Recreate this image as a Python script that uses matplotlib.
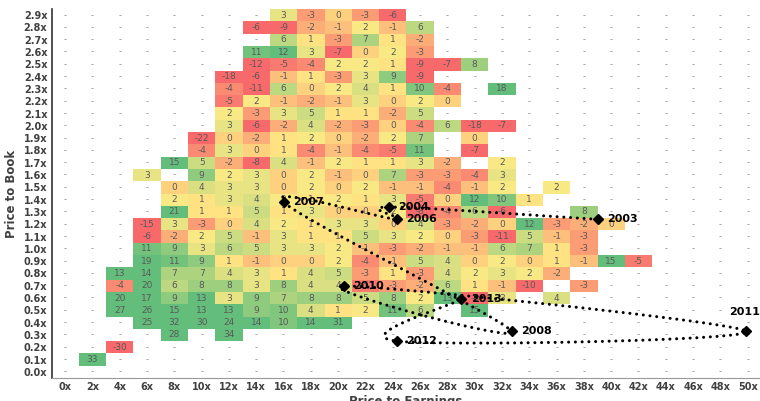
import numpy as np
import matplotlib.pyplot as plt
from matplotlib.colors import LinearSegmentedColormap, Normalize

# axis categories
pe_ticks = list(range(0, 51, 2))
pb_ticks = [round(0.1 * i, 1) for i in range(30)]

# heat map values, one string per P/B row from 2.9x down to 0.0x, "-" = no data
heat_rows = [
    "- - - - - - - - 3 -3 0 -3 -6 - - - - - - - - - - - - -",
    "- - - - - - - -6 -9 -2 -1 2 -1 6 - - - - - - - - - - - -",
    "- - - - - - - - 6 1 -3 7 1 -2 - - - - - - - - - - - -",
    "- - - - - - - 11 12 3 -7 0 2 -3 - - - - - - - - - - - -",
    "- - - - - - - -12 -5 -4 2 2 1 -9 -7 8 - - - - - - - - - -",
    "- - - - - - -18 -6 -1 1 -3 3 9 -9 - - - - - - - - - - - -",
    "- - - - - - -4 -11 6 0 2 4 1 10 -4 - 18 - - - - - - - - -",
    "- - - - - - -5 2 -1 -2 -1 3 0 2 0 - - - - - - - - - - -",
    "- - - - - - 2 -3 3 5 1 1 -2 5 - - - - - - - - - - - -",
    "- - - - - - 3 -6 -2 4 -2 -3 0 -4 6 -18 -7 - - - - - - - - -",
    "- - - - - -22 0 -2 1 2 0 -2 2 7 - 0 - - - - - - - - - -",
    "- - - - - -4 3 0 1 -4 -1 -4 -5 11 - -7 - - - - - - - - - -",
    "- - - - 15 5 -2 -8 4 -1 2 1 1 3 -2 - 2 - - - - - - - - -",
    "- - - 3 - 9 2 3 0 2 -1 0 7 -3 -3 -4 3 - - - - - - - - -",
    "- - - - 0 4 3 3 0 2 0 2 -1 -1 -4 -1 2 - 2 - - - - - - -",
    "- - - - 2 1 3 4 2 1 2 1 3 -5 0 12 10 1 - - - - - - - -",
    "- - - - 21 1 1 5 1 3 0 0 2 -8 -4 6 -6 - - 8 - - - - - -",
    "- - - -15 3 -3 0 4 2 1 3 3 0 4 -3 -2 0 12 -3 -2 0 - - - - -",
    "- - - -6 -2 2 5 -1 3 1 1 5 3 2 0 -3 -11 5 -1 -3 - - - - - -",
    "- - - 11 9 3 6 5 3 3 2 -1 -3 -2 -1 -1 6 7 1 -3 - - - - - -",
    "- - - 19 11 9 1 -1 0 0 2 -4 -1 5 4 0 2 0 1 -1 15 -5 - - - -",
    "- - 13 14 7 7 4 3 1 4 5 -3 1 -3 4 2 3 2 -2 - - - - - - -",
    "- - -4 20 6 8 8 3 8 4 4 -5 -3 -2 6 1 -1 -10 - -3 - - - - - -",
    "- - 20 17 9 13 3 9 7 8 8 5 8 2 13 -8 3 - 4 - - - - - - -",
    "- - 27 26 15 13 13 9 10 4 1 2 11 6 - 15 - - - - - - - - - -",
    "- - - 25 32 30 24 14 10 14 31 - - - - - - - - - - - - - - -",
    "- - - - 28 - 34 - - - - - - - - - - - - - - - - - - -",
    "- - -30 - - - - - - - - - - - - - - - - - - - - - - -",
    "- 33 - - - - - - - - - - - - - - - - - - - - - - - -",
    "- - - - - - - - - - - - - - - - - - - - - - - - - -",
]

# yearly path
years = ["2003", "2004", "2006", "2007", "2008", "2010", "2011", "2012", "2013"]
year_pe = [39.0, 23.7, 24.3, 16.0, 32.7, 20.4, 49.9, 24.3, 29.0]
year_pb = [1.24, 1.34, 1.24, 1.38, 0.33, 0.70, 0.33, 0.25, 0.59]

grid = np.array([[np.nan if t == "-" else float(t) for t in r.split()] for r in heat_rows])
grid = grid[::-1]  # row 0 -> 0.0x

cmap = LinearSegmentedColormap.from_list(
    "excel", [(0, "#F8696B"), (0.4167, "#FFEB84"), (1, "#63BE7B")])
norm = Normalize(vmin=-6, vmax=12, clip=True)

W, H = 760, 401
fig = plt.figure(figsize=(W / 100, H / 100), dpi=100)
ax = fig.add_axes([51.5 / W, 23 / H, (W - 51.5) / W, 369 / H])

x_edges = np.arange(-1, 52, 2)
y_edges = np.arange(-0.05, 3.0, 0.1)
ax.pcolormesh(x_edges, y_edges, np.ma.masked_invalid(grid), cmap=cmap, norm=norm)

for i, pb in enumerate(pb_ticks):
    for j, pe in enumerate(pe_ticks):
        v = grid[i, j]
        if np.isnan(v):
            ax.text(pe, pb, "-", ha="center", va="center", fontsize=6, color="#8c8c8c")
        else:
            ax.text(pe, pb, f"{int(v)}", ha="center", va="center", fontsize=6.5,
                    color="#595959")


# smoothed path (Catmull-Rom style, like Excel's smoothed scatter line)
def smooth(xs, ys, n=40, yscale=9.0):
    p = np.column_stack([xs, np.array(ys) * yscale])
    out = []
    for i in range(len(p) - 1):
        p0 = p[i - 1] if i > 0 else p[i]
        p1, p2 = p[i], p[i + 1]
        p3 = p[i + 2] if i + 2 < len(p) else p[i + 1]
        c1 = p1 + (p2 - p0) / 6
        c2 = p2 - (p3 - p1) / 6
        t = np.linspace(0, 1, n)[:, None]
        seg = ((1 - t) ** 3) * p1 + 3 * ((1 - t) ** 2) * t * c1 + 3 * (1 - t) * t ** 2 * c2 + t ** 3 * p2
        out.append(seg if i == 0 else seg[1:])
    out = np.vstack(out)
    return out[:, 0], out[:, 1] / yscale


sx, sy = smooth(year_pe, year_pb)
ax.plot(sx, sy, color="black", linewidth=2.2, linestyle=(0, (0.01, 2.2)),
        dash_capstyle="round", zorder=4)
ax.plot(year_pe, year_pb, linestyle="none", marker="D", markersize=5.5,
        color="black", zorder=5)
for yr, pe, pb in zip(years, year_pe, year_pb):
    if yr == "2011":
        ax.annotate(yr, (pe, pb), xytext=(-1, 10), textcoords="offset points",
                    ha="center", va="bottom", fontsize=8, fontweight="bold", zorder=6)
    else:
        ax.annotate(yr, (pe, pb), xytext=(7, 0), textcoords="offset points",
                    ha="left", va="center", fontsize=8, fontweight="bold", zorder=6)

ax.set_xlim(-1, 50.9)
ax.set_ylim(-0.05, 2.95)
ax.set_xticks(pe_ticks)
ax.set_xticklabels([f"{v}x" for v in pe_ticks])
ax.set_yticks(pb_ticks)
ax.set_yticklabels([f"{v:.1f}x" for v in pb_ticks])
ax.tick_params(length=0, labelsize=7, colors="#404040", pad=3)
for lab in ax.get_xticklabels() + ax.get_yticklabels():
    lab.set_fontweight("bold")
for s in ["top", "right"]:
    ax.spines[s].set_visible(False)
ax.spines["left"].set_color("#333333")
ax.spines["left"].set_linewidth(1.2)
ax.spines["bottom"].set_color("#999999")
ax.set_xlabel("Price to Earnings", fontsize=8.5, fontweight="bold", color="#404040", labelpad=2)
ax.set_ylabel("Price to Book", fontsize=8.5, fontweight="bold", color="#404040", labelpad=4)

fig.savefig("out.png", dpi=100)
